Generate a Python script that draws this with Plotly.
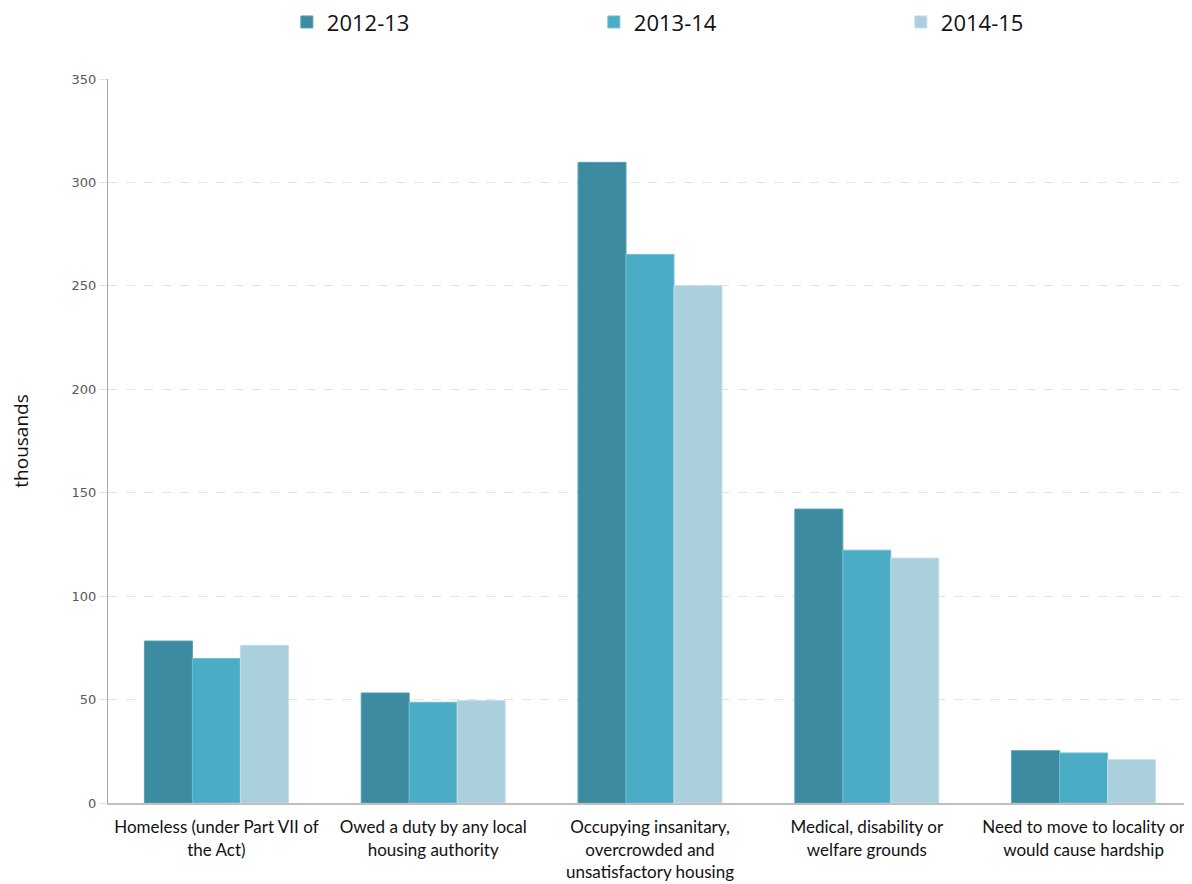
import plotly.graph_objects as go

categories = [
    "Homeless (under Part VII of<br>the Act)",
    "Owed a duty by any local<br>housing authority",
    "Occupying insanitary,<br>overcrowded and<br>unsatisfactory housing",
    "Medical, disability or<br>welfare grounds",
    "Need to move to locality or<br>would cause hardship",
]
series_names = ["2012-13", "2013-14", "2014-15"]
v_2012_13 = [78.3, 53.2, 309.7, 142.1, 25.3]
v_2013_14 = [69.9, 48.7, 265.2, 122.2, 24.2]
v_2014_15 = [76.2, 49.5, 250.1, 118.4, 20.9]
colors = ["#3c8ba1", "#4bacc6", "#aacfdd"]
edge_colors = ["#5a9fb3", "#6fbfd4", "#c4dde7"]
y_ticks = [0, 50, 100, 150, 200, 250, 300, 350]

fig = go.Figure()
for name, vals, c, ec in zip(series_names, [v_2012_13, v_2013_14, v_2014_15], colors, edge_colors):
    fig.add_trace(go.Bar(
        x=categories, y=vals, name=name,
        marker=dict(color=c, line=dict(color=ec, width=1)),
    ))

label_font = "Lato, Open Sans, sans-serif"

fig.update_layout(
    width=1192, height=884,
    margin=dict(l=100, r=8, t=71, b=89, autoexpand=False),
    paper_bgcolor="white", plot_bgcolor="white",
    barmode="group", bargap=0.336, bargroupgap=0,
    showlegend=True,
    legend=dict(
        orientation="h", x=0.165, xanchor="left", xref="paper",
        y=0.984, yanchor="middle", yref="container",
        font=dict(family="Open Sans, sans-serif", size=22, color="#111111"),
        entrywidth=262, entrywidthmode="pixels",
        traceorder="normal",
    ),
    xaxis=dict(
        showline=True, linecolor="#bfbfbf", linewidth=2,
        tickfont=dict(family=label_font, size=17, color="#111111"),
        ticks="", showgrid=False, automargin=False, ticklabelstandoff=8,
    ),
    yaxis=dict(
        range=[0, 350], tickvals=y_ticks,
        showline=True, linecolor="#a6a6a6", linewidth=1,
        showgrid=True, gridcolor="#e3e3e3", griddash="dash", gridwidth=1,
        ticks="outside", ticklen=8, tickcolor="#e3e3e3",
        tickfont=dict(family="DejaVu Sans, Verdana, sans-serif", size=13, color="#595959"),
        title=dict(text="thousands", font=dict(family="Open Sans, sans-serif", size=19, color="#111111"), standoff=45),
        zeroline=False, automargin=False,
    ),
)

fig.write_html("out.html")
